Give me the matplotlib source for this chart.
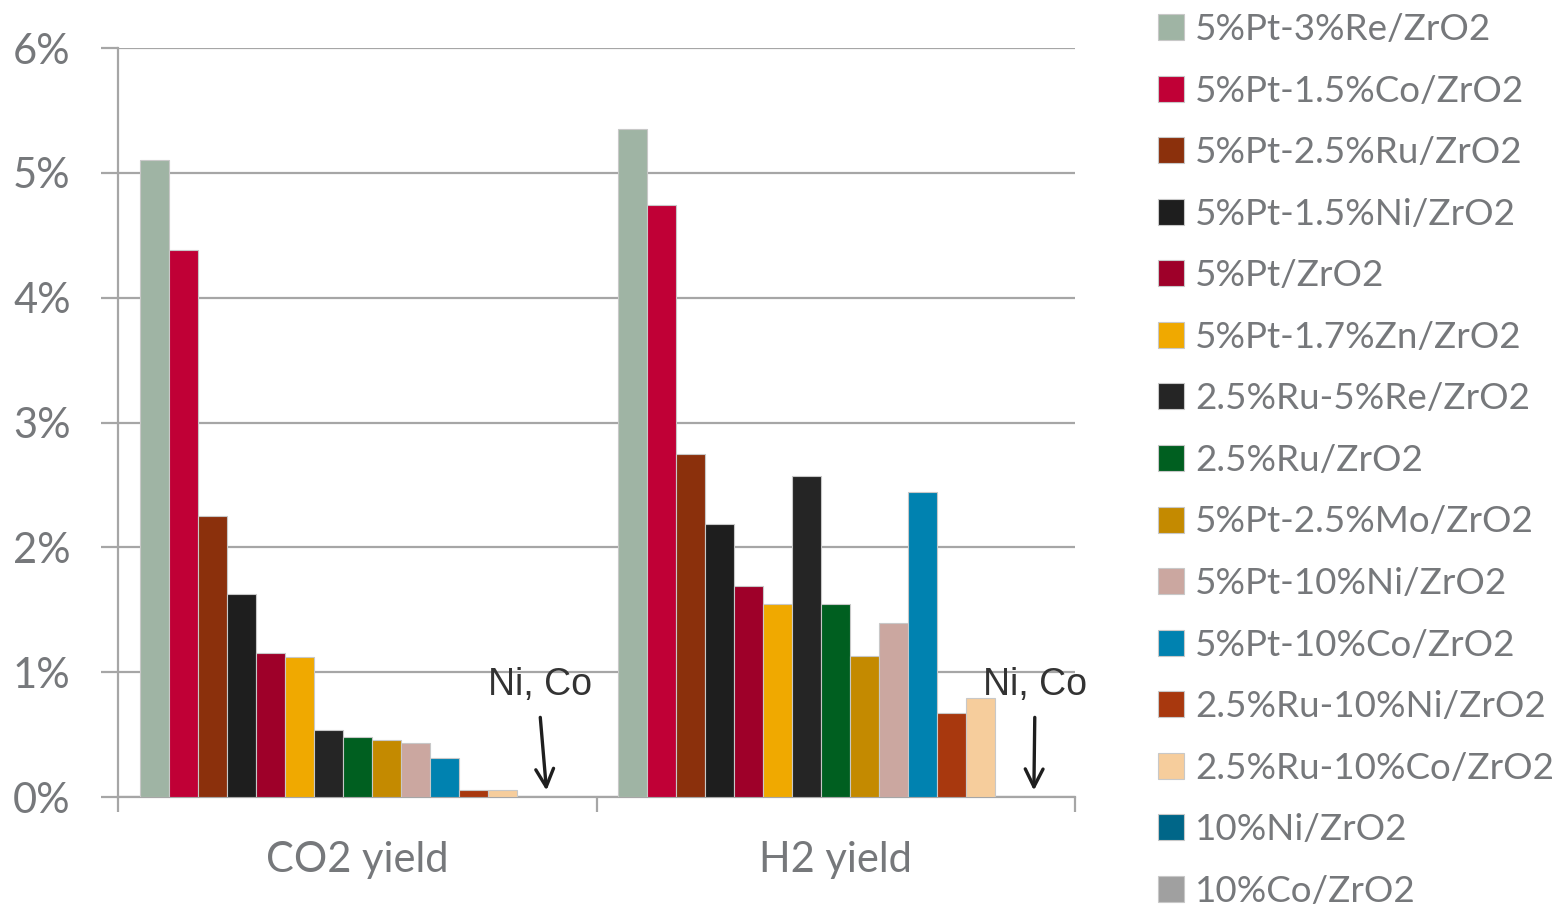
import numpy as np
import matplotlib.pyplot as plt
from matplotlib.patches import Patch

categories = ['CO2 yield', 'H2 yield']
catalysts = [
    '5%Pt-3%Re/ZrO2', '5%Pt-1.5%Co/ZrO2', '5%Pt-2.5%Ru/ZrO2', '5%Pt-1.5%Ni/ZrO2',
    '5%Pt/ZrO2', '5%Pt-1.7%Zn/ZrO2', '2.5%Ru-5%Re/ZrO2', '2.5%Ru/ZrO2',
    '5%Pt-2.5%Mo/ZrO2', '5%Pt-10%Ni/ZrO2', '5%Pt-10%Co/ZrO2', '2.5%Ru-10%Ni/ZrO2',
    '2.5%Ru-10%Co/ZrO2', '10%Ni/ZrO2', '10%Co/ZrO2',
]
co2_yield = [5.10, 4.38, 2.25, 1.63, 1.15, 1.12, 0.54, 0.48, 0.46, 0.43, 0.31, 0.06, 0.06, 0.0, 0.0]
h2_yield = [5.35, 4.74, 2.75, 2.19, 1.69, 1.55, 2.57, 1.55, 1.13, 1.39, 2.44, 0.67, 0.79, 0.0, 0.0]
colors = ['#9FB4A4', '#C00036', '#8B300C', '#1E1E1E', '#9E0029', '#F0A900', '#252525',
          '#005F20', '#C48A00', '#CBA7A0', '#0082B0', '#A8380E', '#F6CD9C', '#006688', '#A0A0A0']

text_gray = '#76787B'
grid_gray = '#A6A6A6'
plt.rcParams['font.family'] = ['Lato', 'DejaVu Sans']

fig = plt.figure(figsize=(15.6, 9.05), dpi=100)
ax = fig.add_axes([118 / 1560, 108 / 905, (1075 - 118) / 1560, (797 - 48) / 905])

n = len(catalysts)
width = 1.0 / (n + 1.5)
x = np.arange(len(categories))
for i, (name, col) in enumerate(zip(catalysts, colors)):
    vals = [co2_yield[i], h2_yield[i]]
    ax.bar(x + (i - (n - 1) / 2) * width, vals, width, color=col,
           edgecolor='#C8C8C8', linewidth=0.8, label=name, zorder=3)

ax.set_xlim(-0.5, 1.5)
ax.set_ylim(0, 6)
ax.set_yticks(range(0, 7))
ax.set_yticklabels([f'{v}%' for v in range(0, 7)], fontsize=30, color=text_gray)
ax.yaxis.grid(True, color=grid_gray, linewidth=1.6, zorder=0)
ax.tick_params(axis='y', length=12, width=1.6, color=grid_gray, pad=22)
ax.set_xticks([-0.5, 0.5, 1.5])
ax.set_xticklabels(['', '', ''])
ax.set_xticks(x, minor=True)
ax.set_xticklabels(categories, minor=True, fontsize=30, color=text_gray)
ax.tick_params(axis='x', which='major', length=11, width=1.6, color=grid_gray)
ax.tick_params(axis='x', which='minor', length=0, pad=32)
for side in ['top', 'right']:
    ax.spines[side].set_visible(False)
for side in ['left', 'bottom']:
    ax.spines[side].set_color(grid_gray)
    ax.spines[side].set_linewidth(1.6)

# Ni, Co have zero yield
for xt, xa0, xa1 in [(0.382, 0.382, 0.396), (1.416, 1.416, 1.414)]:
    ax.text(xt, 0.90, 'Ni, Co', ha='center', va='center', fontsize=27,
            color='#333333', family=['Liberation Sans', 'DejaVu Sans'], zorder=5)
    ax.annotate('', xy=(xa1, 0.03), xytext=(xa0, 0.66),
                arrowprops=dict(arrowstyle='->', color='#1E1E1E', lw=2.4,
                                mutation_scale=32), zorder=5)

handles = [Patch(facecolor=c, edgecolor='#C8C8C8', linewidth=0.8) for c in colors]
leg = fig.legend(handles, catalysts, loc='upper left', bbox_to_anchor=(1158 / 1560, 1 - 13 / 905),
                 frameon=False, fontsize=26.5, handlelength=0.71, handleheight=0.71,
                 handletextpad=0.3, labelspacing=0.776, borderpad=0, borderaxespad=0)
for t in leg.get_texts():
    t.set_color(text_gray)

fig.savefig('out.png', dpi=100)
